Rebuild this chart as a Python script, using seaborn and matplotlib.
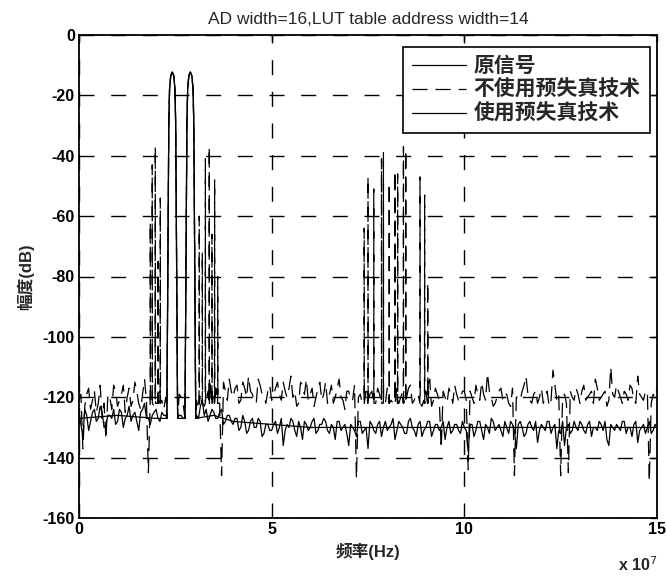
import numpy as np
import pandas as pd
import matplotlib
matplotlib.use("Agg")
import matplotlib.pyplot as plt
import seaborn as sns

# ---------------- data (frequency in units of 1e7 Hz, level in dB) ----------------
TITLE = "AD width=16,LUT table address width=14"
LEGEND_LABELS = ["原信号", "不使用预失真技术", "使用预失真技术"]
X_TICKS = [0, 5, 10, 15]
Y_TICKS = [-160, -140, -120, -100, -80, -60, -40, -20, 0]

# two-tone test signal
TONE_FREQS = [2.42, 2.89]
TONE_OFFSETS = [-0.14, -0.11, -0.09, -0.07, -0.04, 0.0, 0.04, 0.07, 0.09, 0.11, 0.14]
TONE_LEVELS = [-127, -70, -30, -18, -13.5, -12.3, -13.5, -18, -30, -70, -127]

# floor sample frequencies 0.0 ... 15.0 step 0.1, and the mid points 0.05 ... 14.95
FLOOR_FREQS = [round(i * 0.1, 2) for i in range(151)]
MID_FREQS = [round(i * 0.1 + 0.05, 2) for i in range(150)]

# noise floor without predistortion (dashed)
NOPD_FLOOR = [
    -121, -137, -119, -124, -118, -122, -127, -134, -120, -116,
    -123, -119, -125, -117, -121, -118, -124, -114, -145, -120,
    -122, -118, -124, -121, -120, -123, -119, -122, -120, -121,
    -118, -124, -117, -121, -115, -119, -116, -146, -118, -114,
    -120, -116, -121, -117, -113, -119, -122, -116, -120, -118,
    -121, -117, -119, -115, -120, -113, -118, -122, -116, -114,
    -119, -123, -117, -121, -115, -119, -122, -117, -120, -124,
    -118, -121, -147, -119, -117, -121, -118, -122, -119, -120,
    -117, -121, -119, -122, -118, -120, -116, -121, -119, -123,
    -118, -114, -121, -119, -137, -120, -117, -122, -119, -121,
    -118, -144, -120, -116, -121, -119, -112, -120, -122, -118,
    -121, -119, -123, -146, -120, -118, -113, -121, -119, -122,
    -117, -120, -123, -111, -121, -146, -119, -145, -120, -117,
    -122, -116, -120, -118, -114, -121, -119, -123, -110, -120,
    -118, -122, -119, -116, -121, -113, -120, -118, -148, -119,
    -117,
]
NOPD_MID = [
    -119, -123, -117, -121, -125, -116, -122, -119, -124, -118,
    -121, -116, -120, -123, -115, -122, -119, -121, -117, -123,
    -119, -121, -120, -122, -119, -121, -120, -122, -119, -120,
    -121, -119, -123, -118, -120, -117, -122, -115, -121, -118,
    -117, -122, -115, -120, -118, -121, -114, -119, -122, -116,
    -119, -115, -121, -118, -117, -120, -123, -115, -119, -121,
    -117, -120, -115, -119, -122, -116, -120, -114, -121, -118,
    -121, -116, -120, -122, -118, -119, -121, -117, -120, -122,
    -119, -122, -117, -120, -121, -117, -122, -119, -116, -121,
    -120, -123, -117, -121, -118, -122, -119, -116, -121, -118,
    -121, -118, -122, -119, -115, -121, -118, -123, -120, -117,
    -119, -122, -117, -120, -121, -116, -119, -122, -118, -120,
    -122, -118, -121, -116, -119, -120, -122, -118, -121, -119,
    -118, -121, -119, -122, -117, -120, -118, -121, -119, -116,
    -120, -118, -121, -117, -122, -119, -121, -118, -122, -120,
]

# intermodulation spurs without predistortion (frequency, peak level)
SPUR_FREQS = [1.85, 1.90, 1.98, 2.05, 2.11, 3.12, 3.20, 3.28, 3.38, 3.45, 3.52, 3.60,
              7.40, 7.50, 7.65, 7.85, 7.90, 8.05, 8.20, 8.27, 8.42, 8.48, 8.85, 8.97, 9.05]
SPUR_PEAKS = [-62, -43, -37, -75, -54, -60, -72, -41, -37, -66, -48, -80,
              -64, -47, -51, -41, -39, -49, -45, -46, -37, -38, -47, -53, -82]
SPUR_BASE = -122

# noise floor with predistortion (solid)
PD_FLOOR = [
    -125, -133, -126, -128, -124, -127, -125, -129, -126, -124,
    -128, -125, -127, -123, -126, -128, -125, -122, -127, -126,
    -124, -128, -126, -127, -126, -128, -126, -127, -125, -128,
    -126, -127, -121, -124, -126, -125, -127, -124, -128, -126,
    -129, -127, -130, -128, -131, -127, -130, -128, -132, -129,
    -131, -128, -130, -136, -129, -127, -131, -128, -134, -129,
    -130, -127, -131, -129, -128, -132, -130, -128, -131, -129,
    -136, -130, -133, -128, -131, -137, -129, -132, -128, -130,
    -131, -129, -134, -128, -130, -132, -127, -131, -129, -133,
    -130, -128, -131, -129, -130, -134, -128, -131, -129, -132,
    -130, -138, -129, -131, -128, -134, -130, -127, -131, -129,
    -133, -130, -128, -131, -129, -130, -132, -128, -131, -135,
    -129, -131, -128, -130, -137, -132, -136, -129, -131, -130,
    -128, -131, -129, -133, -130, -128, -131, -134, -129, -131,
    -130, -128, -132, -130, -129, -135, -130, -132, -128, -131,
    -130,
]
PD_MID = [
    -129, -124, -131, -125, -128, -123, -130, -126, -127, -129,
    -124, -130, -126, -128, -125, -131, -124, -127, -129, -125,
    -127, -125, -126, -127, -126, -128, -126, -127, -126, -127,
    -126, -123, -126, -128, -124, -127, -125, -129, -126, -128,
    -127, -131, -126, -132, -128, -130, -127, -133, -129, -131,
    -129, -132, -127, -131, -130, -128, -133, -130, -128, -131,
    -128, -132, -129, -127, -131, -129, -134, -128, -130, -132,
    -129, -131, -128, -132, -130, -128, -131, -129, -133, -128,
    -130, -127, -131, -129, -132, -128, -130, -133, -128, -131,
    -128, -133, -129, -131, -128, -130, -132, -129, -131, -128,
    -131, -129, -133, -128, -131, -129, -132, -128, -130, -131,
    -128, -132, -129, -137, -128, -133, -129, -130, -128, -131,
    -130, -128, -132, -129, -131, -128, -130, -132, -128, -131,
    -129, -132, -128, -130, -131, -129, -128, -136, -130, -129,
    -131, -128, -130, -133, -128, -131, -129, -130, -132, -129,
]

# original signal floor (coarse)
ORIG_FLOOR_FREQS = [0, 1, 2, 3.5, 4, 5, 6, 7, 8, 9, 10, 11, 12, 13, 14, 15]
ORIG_FLOOR = [-127, -126, -127, -126, -128, -129, -130, -130, -130, -130,
              -130, -130, -130, -130, -130, -130]


def build(floor_f, floor_v, spur_f=(), spur_p=(), base=None):
    pts = []
    for f, v in zip(floor_f, floor_v):
        if all(abs(f - c) > 0.145 for c in TONE_FREQS):
            pts.append((f, v))
    for c in TONE_FREQS:
        for o, lv in zip(TONE_OFFSETS, TONE_LEVELS):
            pts.append((c + o, lv))
    for f, p in zip(spur_f, spur_p):
        pts += [(f - 0.004, base), (f, p), (f + 0.004, base)]
    pts.sort()
    return pd.DataFrame(pts, columns=["f", "dB"])


df_orig = build(ORIG_FLOOR_FREQS, ORIG_FLOOR)
df_nopd = build(FLOOR_FREQS + MID_FREQS, NOPD_FLOOR + NOPD_MID,
                SPUR_FREQS, SPUR_PEAKS, SPUR_BASE)
df_pd = build(FLOOR_FREQS + MID_FREQS, PD_FLOOR + PD_MID)

# ---------------- style ----------------
sns.set_style("white")
plt.rcParams["font.family"] = ["Liberation Sans", "Noto Sans CJK SC", "DejaVu Sans"]
plt.rcParams["lines.scale_dashes"] = False
plt.rcParams["axes.unicode_minus"] = False

fig = plt.figure(figsize=(6.67, 5.76), dpi=100)
ax = fig.add_axes([79 / 667, 1 - 518 / 576, 578 / 667, 483 / 576])

DASH = (0, (10.8, 5.8))
sns.lineplot(data=df_orig, x="f", y="dB", ax=ax, color="k", lw=0.9,
             estimator=None, sort=False, label=LEGEND_LABELS[0])
sns.lineplot(data=df_nopd, x="f", y="dB", ax=ax, color="k", lw=0.9, ls=DASH,
             estimator=None, sort=False, label=LEGEND_LABELS[1])
sns.lineplot(data=df_pd, x="f", y="dB", ax=ax, color="k", lw=0.9,
             estimator=None, sort=False, label=LEGEND_LABELS[2])

ax.set_xlim(0, 15)
ax.set_ylim(-160, 0)
ax.set_xticks(X_TICKS)
ax.set_xticklabels([str(t) for t in X_TICKS], fontsize=11.5, fontweight="bold")
ax.set_yticks(Y_TICKS)
ax.set_yticklabels([str(t) for t in Y_TICKS], fontsize=11.5, fontweight="bold")
ax.tick_params(direction="in", length=4, width=1, top=True, right=True,
               colors="k", pad=3)
ax.grid(True, color="k", lw=1.0, ls=(0, (10.8, 12)))
for s in ax.spines.values():
    s.set_color("k")
    s.set_linewidth(1.3)

ax.set_title(TITLE, fontsize=12.5, pad=8)
ax.set_xlabel("频率(Hz)", fontsize=12, fontweight="bold", labelpad=4)
ax.set_ylabel("幅度(dB)", fontsize=12, fontweight="bold", labelpad=6)
fig.text(657 / 667, 1 - 565 / 576, "x 10$^{7}$", ha="right", va="center",
         fontsize=11.5, fontweight="bold")

leg = ax.legend(loc="upper right", bbox_to_anchor=(0.988, 0.975), borderaxespad=0,
                fancybox=False, framealpha=1, edgecolor="k", fontsize=15,
                handlelength=2.6, handletextpad=0.35, labelspacing=0.18,
                borderpad=0.45)
leg.get_frame().set_linewidth(1.2)
for t in leg.get_texts():
    t.set_fontweight("bold")

fig.savefig("out.png", dpi=100)
